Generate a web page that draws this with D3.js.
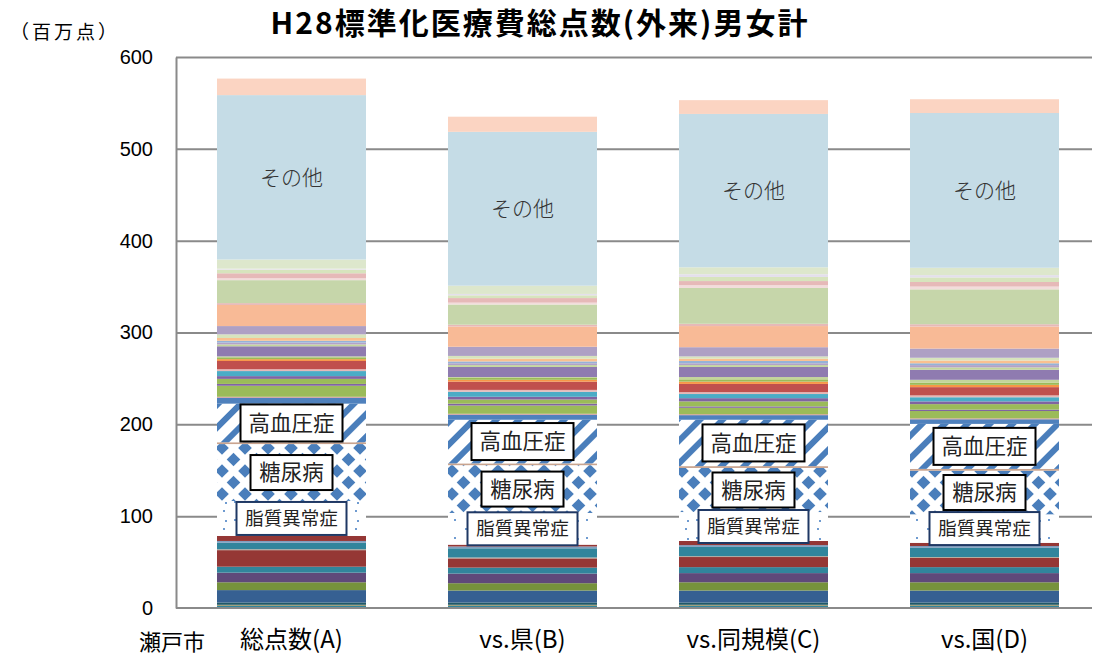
<!DOCTYPE html>
<html>
<head>
<meta charset="utf-8">
<script src="https://cdn.jsdelivr.net/npm/d3@7"></script>
<style>
body { margin: 0; background: #fff; }
text { font-family: "Noto Sans CJK JP", "Noto Sans", sans-serif; }
</style>
</head>
<body>
<div id="chart"></div>
<script>
var categories = ["総点数(A)", "vs.県(B)", "vs.同規模(C)", "vs.国(D)"];

// series, bottom to top (disease groups)
var seriesNames = [
  "疾病01","疾病02","疾病03","疾病04","疾病05","疾病06","疾病07","疾病08","疾病09","疾病10","疾病11","疾病12",
  "脂質異常症","糖尿病","その他内分泌","高血圧症",
  "疾病13","疾病14","疾病15","疾病16","疾病17","疾病18","疾病19","疾病20","疾病21","疾病22","疾病23","疾病24",
  "疾病25","疾病26","疾病27","疾病28","疾病29","疾病30","疾病31","疾病32","疾病33","疾病34","疾病35","疾病36",
  "疾病37","疾病38","疾病39",
  "その他","歯科"
];

var valuesA = [2.5,1,2.5,13.5,8.5,10.5,6.5,18,1,7,2,5.5,
  38,62,2,42,
  6.5,1,12,2,5.5,3,5.5,2,9,2,2,1,11,2,2,2,3,4,9,23,2,25,2,5.5,4,1,10,
  179,18];
var valuesB = [2.5,1,2.5,13,8,10.5,6.5,10,1,10,2,2,
  34.5,52,2,47.5,
  5.5,1,9,2,4.5,3,5.5,2,9,2,2,1,11,2,2,2,3,3,10,22,2,22,2,5,3,1.5,9,
  167.5,16.5];
var valuesC = [2.5,1,2.5,13,9,10,6.5,11,1,10,2,4.5,
  31.5,48,2,50.5,
  5,1,7,1.5,5.5,3.5,4.5,2,9,2.5,2.5,2.5,11,2,2,2.5,2.5,2.5,10,23,2.5,39,3,4.5,4.5,3,7.5,
  167,15];
var valuesD = [2.5,1,2.5,13,9,10,6.5,10,1,10,2,3.5,
  31,47.5,2,49,
  5,1,8,1.5,6,3,4.5,2,9,2.5,2.5,3,11,2.5,2.5,2,3,3,10,24,2.5,38,3,5,5,2.5,8,
  168.5,15];

var yTicks = [0,100,200,300,400,500,600];

var colors = [
  "#31859c","#948a54","#215968","#366092","#76923c","#5f497a","#31859c","#953735","#b7a99b","#31859c","#7f9fbf","#953735",
  "url(#pat-lipid)","url(#pat-diab)","#c9a48f","url(#pat-hyper)",
  "#4f81bd","#d99694","#9bbb59","#8064a2","#9bbb59","#8064a2","#4bacc6","#e6b9b8","#c0504d","#f79646","#9bbb59","#c3d69b",
  "#8f7bb0","#c3d69b","#b3a2c7","#95b3d7","#fac090","#d7e4bd","#aea0c4","#f8ba96","#e6b9b8","#c6d6aa","#f2dcdb","#e6b9b8",
  "#d7e4bd","#e4dfec","#dde7cc",
  "#c5dce6","#fbd4c2"
];

var boxLabels = {
  "高血圧症": {w: 102, h: 37, size: 21.5, stroke: "#000"},
  "糖尿病": {w: 82, h: 35, size: 21.5, stroke: "#000"},
  "脂質異常症": {w: 110, h: 33, size: 18.5, stroke: "#1f3864"}
};

var table = categories.map(function(c, i) {
  var vals = [valuesA, valuesB, valuesC, valuesD][i];
  var row = {cat: c};
  seriesNames.forEach(function(s, j) { row[s] = vals[j]; });
  return row;
});

var svg = d3.select("#chart").append("svg")
    .attr("width", 1097)
    .attr("height", 660);

// patterns
var defs = svg.append("defs");
var ph = defs.append("pattern").attr("id", "pat-hyper")
    .attr("patternUnits", "userSpaceOnUse")
    .attr("width", 16).attr("height", 16)
    .attr("patternTransform", "rotate(45)");
ph.append("rect").attr("width", 16).attr("height", 16).attr("fill", "#fff");
ph.append("rect").attr("width", 6).attr("height", 16).attr("fill", "#4a7ebb");

var pd = defs.append("pattern").attr("id", "pat-diab")
    .attr("patternUnits", "userSpaceOnUse")
    .attr("width", 23).attr("height", 23);
pd.append("rect").attr("width", 23).attr("height", 23).attr("fill", "#fff");
[[11.5,11.5],[0,0],[23,0],[0,23],[23,23]].forEach(function(p) {
  pd.append("path")
    .attr("d", "M" + p[0] + "," + (p[1]-6.8) + "L" + (p[0]+6.8) + "," + p[1] + "L" + p[0] + "," + (p[1]+6.8) + "L" + (p[0]-6.8) + "," + p[1] + "Z")
    .attr("fill", "#4a7ebb");
});

var pl = defs.append("pattern").attr("id", "pat-lipid")
    .attr("patternUnits", "userSpaceOnUse")
    .attr("width", 22).attr("height", 18);
pl.append("rect").attr("width", 22).attr("height", 18).attr("fill", "#fff");
[[3,3],[14,12],[5,13]].forEach(function(p) {
  pl.append("rect").attr("x", p[0]).attr("y", p[1]).attr("width", 2).attr("height", 2).attr("fill", "#6f9bd0");
});

var margin = {top: 57, left: 176};
var width = 924, height = 551;
var gridRight = 916;

var x = d3.scaleBand().domain(categories).range([0, width]).paddingInner(0.355).paddingOuter(0.1775);
var y = d3.scaleLinear().domain([0, 600]).range([height, 0]);

var g = svg.append("g").attr("transform", "translate(" + margin.left + "," + margin.top + ")");

// gridlines
g.append("g")
    .attr("class", "grid")
    .call(d3.axisLeft(y).tickValues(yTicks.slice(1)).tickSize(-gridRight).tickFormat(""))
    .call(function(s) { s.select(".domain").remove(); })
    .selectAll("line").attr("stroke", "#8a8a8a").attr("stroke-width", 2);

var stack = d3.stack().keys(seriesNames);
var layers = stack(table);

g.selectAll(".layer")
    .data(layers)
    .enter().append("g")
    .attr("class", "layer")
    .attr("fill", function(d, i) { return colors[i]; })
    .selectAll("rect")
    .data(function(d) { return d; })
    .enter().append("rect")
    .attr("x", function(d) { return x(d.data.cat); })
    .attr("width", x.bandwidth())
    .attr("y", function(d) { return y(d[1]); })
    .attr("height", function(d) { return y(d[0]) - y(d[1]); });

// axes
var yAxis = g.append("g")
    .call(d3.axisLeft(y).tickValues(yTicks).tickSize(0).tickPadding(23));
yAxis.select(".domain").attr("stroke", "#8a8a8a").attr("stroke-width", 2);
yAxis.selectAll("text").style("font-family", "'Liberation Sans', Arial, sans-serif").style("font-size", "20px").attr("fill", "#000");

g.append("line")
    .attr("x1", 0).attr("x2", gridRight)
    .attr("y1", y(0)).attr("y2", y(0))
    .attr("stroke", "#8a8a8a").attr("stroke-width", 2);

g.selectAll(".xlabel")
    .data(categories)
    .enter().append("text")
    .attr("class", "xlabel")
    .attr("x", function(d) { return x(d) + x.bandwidth() / 2; })
    .attr("y", height + 40)
    .attr("text-anchor", "middle")
    .style("font-size", "24px")
    .text(function(d) { return d; });

svg.append("text")
    .attr("x", 172).attr("y", 650)
    .attr("text-anchor", "middle")
    .style("font-size", "22px")
    .text("瀬戸市");

// その他 labels
var otherIdx = seriesNames.indexOf("その他");
g.selectAll(".other")
    .data(layers[otherIdx])
    .enter().append("text")
    .attr("x", function(d) { return x(d.data.cat) + x.bandwidth() / 2; })
    .attr("y", function(d) { return y((d[0] + d[1]) / 2); })
    .attr("dy", "0.35em")
    .attr("text-anchor", "middle")
    .attr("fill", "#333")
    .style("font-size", "21px")
    .style("font-weight", "300")
    .text("その他");

// boxed labels
Object.keys(boxLabels).forEach(function(name) {
  var b = boxLabels[name];
  var layer = layers[seriesNames.indexOf(name)];
  var lg = g.selectAll(".lab-" + name)
      .data(layer)
      .enter().append("g")
      .attr("transform", function(d) {
        return "translate(" + (x(d.data.cat) + x.bandwidth() / 2) + "," + y((d[0] + d[1]) / 2) + ")";
      });
  lg.append("rect")
      .attr("x", -b.w / 2).attr("y", -b.h / 2)
      .attr("width", b.w).attr("height", b.h)
      .attr("fill", "#fff")
      .attr("stroke", b.stroke)
      .attr("stroke-width", 2);
  lg.append("text")
      .attr("text-anchor", "middle")
      .attr("dy", "0.36em")
      .attr("fill", "#222")
      .style("font-size", b.size + "px")
      .text(name);
});

// title and unit
svg.append("text")
    .attr("x", 540).attr("y", 34)
    .attr("text-anchor", "middle")
    .style("font-size", "30px")
    .style("font-weight", "bold")
    .style("letter-spacing", "2px")
    .text("H28標準化医療費総点数(外来)男女計");

svg.append("text")
    .attr("x", 10).attr("y", 39)
    .style("font-size", "19px")
    .style("letter-spacing", "3px")
    .text("（百万点）");
</script>
</body>
</html>
